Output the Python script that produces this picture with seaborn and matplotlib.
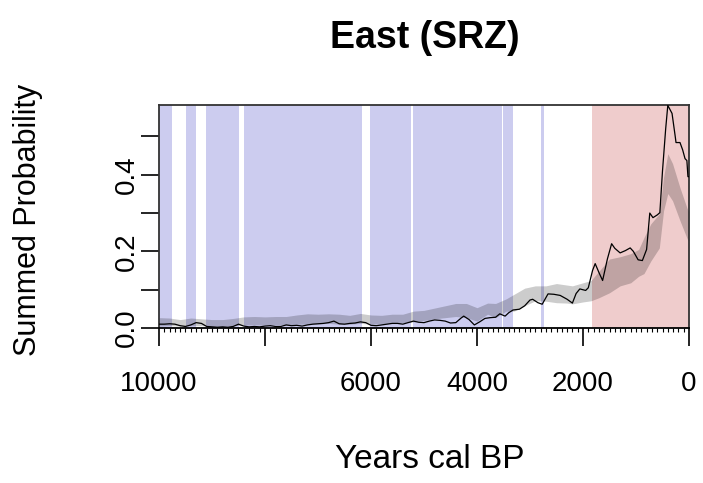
import numpy as np
import pandas as pd
import matplotlib
matplotlib.use("Agg")
import matplotlib.pyplot as plt
import seaborn as sns
from matplotlib.ticker import FixedLocator

# Observed summed probability distribution (years cal BP)
spd_years = [10000, 9900, 9800, 9700, 9600, 9500, 9400, 9300, 9200, 9100,
             9000, 8900, 8800, 8700, 8600, 8500, 8400, 8300, 8200, 8100,
             8000, 7900, 7800, 7700, 7600, 7500, 7400, 7300, 7200, 7100,
             7000, 6900, 6800, 6700, 6600, 6500, 6400, 6300, 6200, 6100,
             6000, 5900, 5800, 5700, 5600, 5500, 5400, 5300, 5200, 5100,
             5000, 4900, 4800, 4700, 4600, 4500, 4400, 4300, 4250, 4150,
             4050, 3950, 3850, 3750, 3650, 3570, 3470, 3400, 3320, 3200,
             3100, 3000, 2950, 2850, 2770, 2660, 2550, 2430, 2300, 2200,
             2130, 2060, 1950, 1900, 1820, 1770, 1700, 1630, 1540, 1460,
             1400, 1300, 1200, 1110, 1050, 960, 880, 800, 740, 680,
             600, 550, 500, 440, 400, 320, 260, 245, 170, 120,
             75, 40, 20, 0]
spd_values = [0.010, 0.010, 0.011, 0.010, 0.006, 0.004, 0.008, 0.014, 0.012, 0.004,
              0.003, 0.002, 0.003, 0.002, 0.004, 0.010, 0.005, 0.003, 0.004, 0.003,
              0.005, 0.006, 0.004, 0.004, 0.008, 0.006, 0.007, 0.005, 0.008, 0.010,
              0.011, 0.012, 0.014, 0.018, 0.011, 0.010, 0.012, 0.013, 0.016, 0.014,
              0.007, 0.006, 0.008, 0.010, 0.012, 0.012, 0.010, 0.014, 0.018, 0.015,
              0.014, 0.018, 0.021, 0.020, 0.018, 0.013, 0.014, 0.026, 0.031, 0.022,
              0.008, 0.016, 0.025, 0.027, 0.028, 0.037, 0.031, 0.040, 0.047, 0.049,
              0.058, 0.073, 0.075, 0.066, 0.062, 0.089, 0.088, 0.085, 0.075, 0.065,
              0.090, 0.102, 0.098, 0.105, 0.150, 0.168, 0.145, 0.124, 0.180, 0.220,
              0.208, 0.196, 0.202, 0.209, 0.200, 0.178, 0.176, 0.205, 0.300, 0.288,
              0.295, 0.301, 0.410, 0.520, 0.581, 0.560, 0.500, 0.484, 0.484, 0.465,
              0.442, 0.437, 0.395, 0.395]

# Simulation envelope of the null model
env_years = [10000, 9800, 9600, 9400, 9200, 9000, 8800, 8600, 8400, 8200,
             8000, 7800, 7600, 7400, 7200, 7000, 6800, 6600, 6400, 6200,
             6000, 5800, 5600, 5400, 5200, 5000, 4800, 4600, 4400, 4200,
             4000, 3800, 3650, 3450, 3300, 3100, 2900, 2700, 2500, 2300,
             2200, 2000, 1850, 1700, 1500, 1300, 1100, 950, 850, 720,
             560, 480, 400, 310, 170, 20, 0]
env_lower = [0.005, 0.006, 0.005, 0.006, 0.006, 0.004, 0.005, 0.006, 0.008, 0.008,
             0.008, 0.009, 0.008, 0.010, 0.010, 0.011, 0.012, 0.010, 0.010, 0.012,
             0.010, 0.011, 0.012, 0.014, 0.016, 0.020, 0.024, 0.027, 0.030, 0.027,
             0.018, 0.036, 0.027, 0.044, 0.044, 0.058, 0.071, 0.070, 0.066, 0.065,
             0.063, 0.068, 0.071, 0.079, 0.092, 0.110, 0.118, 0.135, 0.142, 0.175,
             0.209, 0.306, 0.351, 0.332, 0.280, 0.228, 0.228]
env_upper = [0.027, 0.026, 0.022, 0.026, 0.024, 0.022, 0.022, 0.025, 0.029, 0.030,
             0.029, 0.030, 0.030, 0.034, 0.037, 0.036, 0.037, 0.036, 0.033, 0.038,
             0.034, 0.033, 0.036, 0.036, 0.044, 0.046, 0.052, 0.058, 0.064, 0.064,
             0.053, 0.065, 0.064, 0.076, 0.088, 0.104, 0.110, 0.110, 0.116, 0.112,
             0.110, 0.118, 0.124, 0.148, 0.180, 0.186, 0.194, 0.205, 0.236, 0.272,
             0.298, 0.393, 0.455, 0.429, 0.366, 0.306, 0.306]

# Periods where the observed SPD falls below / rises above the envelope
below_start = [10000, 9496, 9113, 8396, 6019, 5202, 3504, 2798]
below_end = [9760, 9302, 8485, 6170, 5251, 3534, 3315, 2736]
above_start = [1836]
above_end = [0]

x_ticks = [10000, 8000, 6000, 4000, 2000, 0]
x_tick_labels = ["10000", "", "6000", "4000", "2000", "0"]
y_ticks = [0.0, 0.1, 0.2, 0.3, 0.4, 0.5]
y_tick_labels = ["0.0", "", "0.2", "", "0.4", ""]

sns.set_theme(style="white")
plt.rcParams["font.family"] = ["Liberation Sans", "DejaVu Sans"]
plt.rcParams["text.color"] = "black"
plt.rcParams["xtick.color"] = "black"
plt.rcParams["ytick.color"] = "black"

fig = plt.figure(figsize=(7.03, 4.83), dpi=100)
ax = fig.add_axes([159 / 703, 1 - 328 / 483, 530 / 703, 223 / 483])

for s, e in zip(below_start, below_end):
    ax.axvspan(e, s, color=(0, 0, 0.7), alpha=0.2, lw=0, zorder=1)
for s, e in zip(above_start, above_end):
    ax.axvspan(e, s, color=(0.7, 0, 0), alpha=0.2, lw=0, zorder=1)

ax.fill_between(env_years, env_lower, env_upper, color="black", alpha=0.2,
                lw=0, zorder=2)

spd = pd.DataFrame({"year": spd_years, "prob": spd_values})
sns.lineplot(data=spd, x="year", y="prob", ax=ax, color="black", lw=0.9,
             sort=False, zorder=3)

ax.set_xlim(10000, 0)
ax.set_ylim(0, 0.582)

ax.xaxis.set_major_locator(FixedLocator(x_ticks))
ax.set_xticklabels(x_tick_labels)
ax.xaxis.set_minor_locator(FixedLocator(list(range(0, 10001, 100))))
ax.yaxis.set_major_locator(FixedLocator(y_ticks))
ax.set_yticklabels(y_tick_labels, rotation=90, va="center")

ax.tick_params(axis="x", which="major", bottom=True, direction="out",
               length=13, width=1.2, color="black", pad=18, labelsize=20,
               labelcolor="black")
ax.tick_params(axis="x", which="minor", bottom=True, direction="out",
               length=3, width=0.8, color="black")
ax.tick_params(axis="y", which="major", left=True, direction="out",
               length=13, width=1.2, color="black", pad=1, labelsize=20,
               labelcolor="black")

for sp in ax.spines.values():
    sp.set_visible(True)
    sp.set_color("#333333")
    sp.set_linewidth(1.3)
ax.spines["bottom"].set_color("black")

ax.set_xlabel("")
ax.set_ylabel("")
fig.text(28 / 703, 1 - 220 / 483, "Summed Probability", rotation=90,
         ha="center", va="center", fontsize=22)
fig.text(430 / 703, 1 - 460 / 483, "Years cal BP", ha="center", va="center",
         fontsize=24)
fig.text(425 / 703, 1 - 38 / 483, "East (SRZ)", ha="center", va="center",
         fontsize=27, fontweight="bold")

fig.savefig("out.png", dpi=100)
